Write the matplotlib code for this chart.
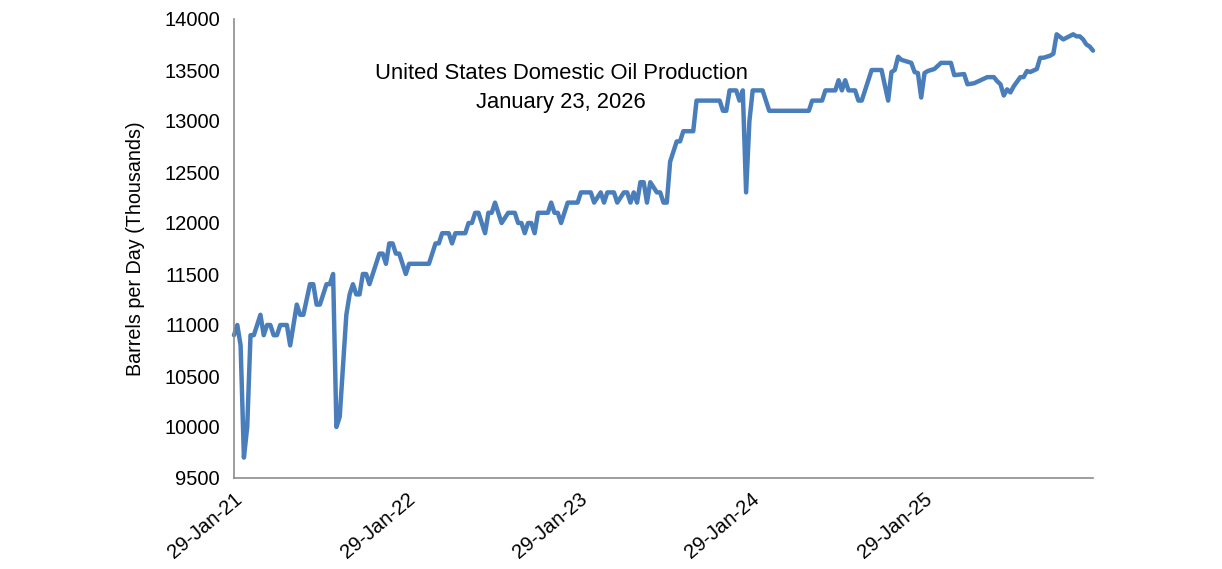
import matplotlib
matplotlib.use("Agg")
import matplotlib.pyplot as plt
import matplotlib.dates as mdates
import numpy as np

plt.rcParams['font.family'] = ['Liberation Sans', 'DejaVu Sans']

start_date = "2021-01-29"
# weeks since 29-Jan-2021 and production (thousand barrels per day)
weeks = [0, 1, 2, 3, 4, 5, 6, 8, 9, 10, 11, 12, 13, 14, 16, 17, 19, 20, 21, 23,
         24, 25, 26, 28, 29, 30, 31, 32, 34, 35, 36, 37, 38, 39, 40, 41, 44, 45, 46, 47,
         48, 49, 50, 52, 53, 59, 61, 62, 63, 65, 66, 67, 70, 71, 72, 73, 74, 76, 77, 78,
         79, 81, 83, 85, 86, 87, 88, 89, 90, 91, 92, 95, 96, 97, 98, 99, 101, 104, 105, 108,
         109, 111, 112, 113, 115, 116, 118, 119, 120, 121, 122, 123, 124, 125, 126, 128, 129, 130, 131, 132,
         134, 135, 136, 139, 140, 147, 148, 149, 150, 152, 153, 154, 155, 156, 157, 160, 162, 174, 175, 178,
         179, 182, 183, 184, 185, 186, 188, 189, 190, 193, 196, 198, 199, 200, 201, 202, 205, 206, 207, 208,
         209, 210, 212, 214, 217, 218, 221, 222, 224, 226, 228, 230, 231, 232, 233, 234, 235, 236, 238, 239,
         240, 241, 243, 244, 245, 247, 248, 249, 251, 254, 255, 256, 257, 258, 259, 260]
values = [10900, 11000, 10800, 9700, 10000, 10900, 10900, 11100, 10900, 11000, 11000, 10900, 10900, 11000, 11000, 10800, 11200, 11100, 11100, 11400,
          11400, 11200, 11200, 11400, 11400, 11500, 10000, 10100, 11100, 11300, 11400, 11300, 11300, 11500, 11500, 11400, 11700, 11700, 11600, 11800,
          11800, 11700, 11700, 11500, 11600, 11600, 11800, 11800, 11900, 11900, 11800, 11900, 11900, 12000, 12000, 12100, 12100, 11900, 12100, 12100,
          12200, 12000, 12100, 12100, 12000, 12000, 11900, 12000, 12000, 11900, 12100, 12100, 12200, 12100, 12100, 12000, 12200, 12200, 12300, 12300,
          12200, 12300, 12200, 12300, 12300, 12200, 12300, 12300, 12200, 12300, 12200, 12400, 12400, 12200, 12400, 12300, 12300, 12200, 12200, 12600,
          12800, 12800, 12900, 12900, 13200, 13200, 13100, 13100, 13300, 13300, 13200, 13300, 12300, 13000, 13300, 13300, 13100, 13100, 13200, 13200,
          13300, 13300, 13400, 13300, 13400, 13300, 13300, 13200, 13200, 13500, 13500, 13200, 13480, 13500, 13630, 13600, 13570, 13480, 13470, 13230,
          13470, 13490, 13510, 13570, 13570, 13450, 13460, 13360, 13370, 13400, 13430, 13430, 13390, 13360, 13250, 13310, 13280, 13340, 13430, 13430,
          13490, 13480, 13510, 13620, 13620, 13640, 13660, 13850, 13800, 13850, 13830, 13830, 13800, 13750, 13730, 13690]

y_ticks = [9500, 10000, 10500, 11000, 11500, 12000, 12500, 13000, 13500, 14000]
x_tick_dates = ["2021-01-29", "2022-01-29", "2023-01-29", "2024-01-29", "2025-01-29"]

title_lines = "United States Domestic Oil Production\nJanuary 23, 2026"
y_label = "Barrels per Day (Thousands)"

t0 = np.datetime64(start_date)
dates = t0 + np.array(weeks) * np.timedelta64(7, 'D')
end_date = np.datetime64("2026-01-23")

fig = plt.figure(figsize=(12.22, 5.69), dpi=100)
ax = fig.add_axes([234 / 1222, 1 - 478 / 569, (1093 - 234) / 1222, (478 - 19) / 569])

ax.plot(dates, values, color='#4A7EBB', linewidth=3.2, solid_joinstyle='round',
        solid_capstyle='round', clip_on=False)

ax.set_ylim(9500, 14000)
ax.set_xlim(t0, end_date)
ax.set_yticks(y_ticks)
ax.set_xticks([np.datetime64(d) for d in x_tick_dates])
ax.xaxis.set_major_formatter(mdates.DateFormatter('%d-%b-%y'))
ax.tick_params(axis='both', length=0, labelsize=14.5, colors='black')
ax.tick_params(axis='y', pad=10)
ax.tick_params(axis='x', pad=8)
for lab in ax.get_xticklabels():
    lab.set_rotation(40)
    lab.set_ha('right')
    lab.set_rotation_mode('anchor')

for s in ['top', 'right']:
    ax.spines[s].set_visible(False)
for s in ['left', 'bottom']:
    ax.spines[s].set_color('#8c8c8c')
    ax.spines[s].set_linewidth(1.2)

ax.set_ylabel(y_label, fontsize=14.2, labelpad=14)
fig.text(561 / 1222, 1 - 88 / 569, title_lines, ha='center', va='center',
         fontsize=15.8, linespacing=1.45)

fig.savefig("out.png", dpi=100)
